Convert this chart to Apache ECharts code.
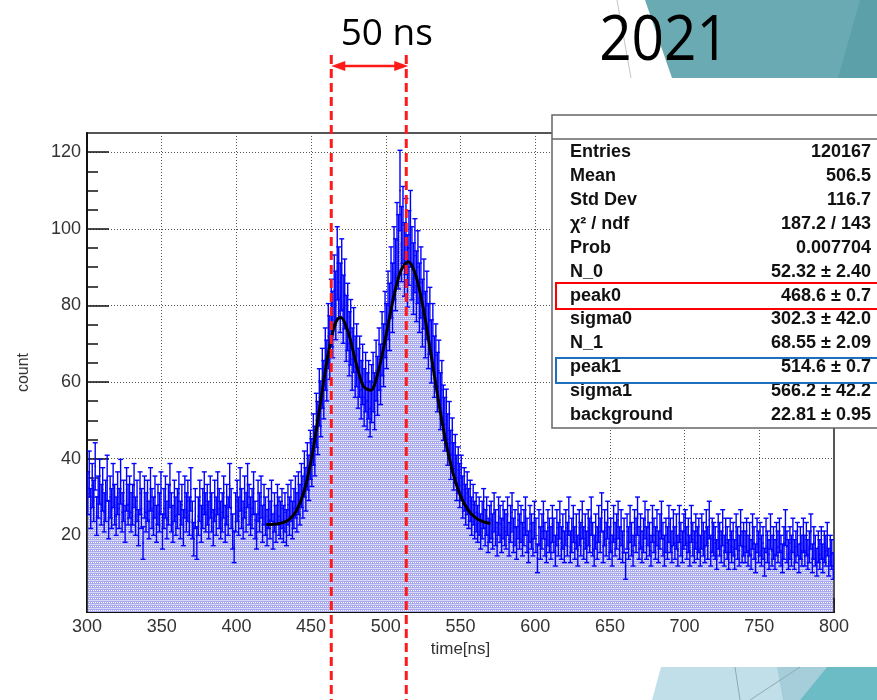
<!DOCTYPE html>
<html>
<head>
<meta charset="utf-8">
<script src="https://cdn.jsdelivr.net/npm/echarts@6.0.0/dist/echarts.min.js"></script>
<style>
  html, body { margin: 0; padding: 0; background: #fff; }
  #main { width: 877px; height: 700px; }
</style>
</head>
<body>
<div id="main"></div>
<script>
// histogram: 1 ns bins from 300 to 800
var binStart = 300;
var binWidth = 1;
var counts = [
  31,36,27,33,29,38,25,30,34,28, 32,26,29,35,24,30,27,33,28,25,
  31,27,34,26,29,23,32,28,30,26, 28,33,25,29,22,31,27,18,30,26,
  29,24,32,27,25,30,23,28,26,31, 21,27,30,24,28,33,26,23,29,25,
  27,31,24,28,22,30,26,29,25,32, 24,19,27,18,25,29,23,27,31,26,
  28,24,30,26,22,29,25,31,27,24, 26,30,23,28,25,33,27,21,17,26,
  29,25,32,27,24,30,26,33,28,25, 27,31,24,21,29,26,30,23,28,25,
  22,27,24,29,21,26,23,28,25,24, 27,23,26,22,28,25,29,24,27,30,
  26,31,28,33,30,36,32,38,35,41, 39,45,42,50,48,56,53,61,58,66,
  63,72,69,78,75,84,80,91,86,82, 88,79,83,74,77,70,73,66,71,64,
  67,61,64,58,62,56,60,55,58,53, 57,60,55,63,59,66,62,70,67,75,
  72,80,77,86,82,91,88,97,94,110, 96,101,92,98,89,95,100,91,87,93,
  85,90,82,86,78,83,75,80,72,76, 68,72,64,67,60,63,55,58,52,49,
  51,45,48,41,44,38,40,35,37,33, 35,30,32,28,31,27,29,25,28,24,
  26,23,25,21,24,27,22,25,20,23, 24,21,26,22,19,25,23,20,24,22,
  21,25,19,23,26,20,22,18,24,21, 23,19,22,25,20,17,23,21,19,24,
  20,14,22,18,21,24,19,17,22,20, 18,23,20,16,22,19,24,18,21,17,
  22,19,25,17,20,23,18,21,16,22, 19,24,18,21,17,22,20,25,19,16,
  21,18,23,20,26,17,22,19,24,18, 20,16,23,19,21,24,18,22,17,20,
  12,21,18,23,19,16,22,20,25,18, 21,17,20,24,18,22,19,16,23,20,
  18,22,17,21,24,19,16,20,18,23, 20,17,22,18,21,16,23,19,17,21,
  22,18,20,16,23,19,17,21,18,20, 16,21,19,17,22,18,24,16,20,19,
  18,15,21,19,17,22,16,20,18,15, 20,17,19,15,21,18,16,22,17,19,
  17,20,16,19,15,21,18,14,20,17, 19,16,18,13,20,17,15,21,16,18,
  15,19,17,20,16,14,18,22,17,15, 18,16,20,15,17,19,14,18,16,20,
  16,19,15,17,21,14,18,16,13,17, 15,18,14,17,16,19,13,16,15,12
];

// fitted double gaussian + background
var fitX = [420,425,430,435,440,445,450,455,460,465,468.6,470,475,480,485,490,495,500,505,510,515,520,525,530,535,540,545,550,555,560,565,570];
var fitY = [22.83,22.91,23.19,24.06,26.31,31.11,39.51,51.31,64.13,73.82,76.76,76.83,72.80,65.13,58.89,57.85,62.81,71.87,81.71,89.03,91.38,87.92,79.44,67.90,55.68,44.75,36.21,30.31,26.65,24.61,23.58,23.11];

// red dashed marker positions (time in ns)
var markerX = [463.5, 513.7];
var markerText = '50 ns';
var yearText = '2021';

var statLabels = ['Entries', 'Mean', 'Std Dev', 'χ² / ndf', 'Prob', 'N_0', 'peak0', 'sigma0', 'N_1', 'peak1', 'sigma1', 'background'];
var statValues = ['120167', '506.5', '116.7', '187.2 / 143', '0.007704', '52.32 ± 2.40', '468.6 ± 0.7', '302.3 ± 42.0', '68.55 ± 2.09', '514.6 ± 0.7', '566.2 ± 42.2', '22.81 ± 0.95'];

var histData = counts.map(function (v, i) {
  return [binStart + binWidth * (i + 0.5), v];
});
var errData = counts.map(function (v, i) {
  return [binStart + binWidth * (i + 0.5), v, Math.sqrt(v)];
});
var fitData = fitX.map(function (x, i) { return [x, fitY[i]]; });

// lavender dotted fill like ROOT's fill style
function makePattern() {
  var c = document.createElement('canvas');
  c.width = 4;
  c.height = 4;
  var ctx = c.getContext('2d');
  ctx.fillStyle = '#a9a9ee';
  ctx.fillRect(0, 0, 4, 4);
  ctx.fillStyle = '#d6d6f8';
  ctx.fillRect(0, 0, 4, 1);
  ctx.fillStyle = '#ffffff';
  ctx.fillRect(1, 2, 1, 1);
  ctx.fillRect(3, 2, 1, 1);
  return c;
}

var font = 'Liberation Sans';
var myChart = echarts.init(document.getElementById('main'));

var option = {
  animation: false,
  grid: {
    left: 87, right: 43, top: 133, bottom: 88,
    show: true, borderColor: '#555', borderWidth: 2
  },
  xAxis: {
    type: 'value',
    min: 300, max: 800, interval: 50,
    name: 'time[ns]',
    nameLocation: 'middle',
    nameGap: 14,
    nameTextStyle: { fontFamily: font, fontSize: 17, color: '#333' },
    axisLine: { show: true, onZero: false, lineStyle: { color: '#111', width: 2 } },
    axisTick: { show: true, inside: true, length: 14, lineStyle: { color: '#111', width: 1.5 } },
    minorTick: { show: true, splitNumber: 5, length: 7, lineStyle: { color: '#111', width: 1.5 } },
    splitLine: { show: true, lineStyle: { color: '#555', type: [1, 2], width: 1 } },
    axisLabel: { fontFamily: font, fontSize: 18, color: '#333', margin: 6 }
  },
  yAxis: {
    type: 'value',
    min: 0, max: 125, interval: 20,
    name: 'count',
    nameLocation: 'middle',
    nameGap: 55,
    nameTextStyle: { fontFamily: font, fontSize: 16, color: '#333' },
    axisLine: { show: true, onZero: false, lineStyle: { color: '#111', width: 2 } },
    axisTick: { show: true, inside: true, length: 22, lineStyle: { color: '#111', width: 1.5 },
      customValues: [0, 20, 40, 60, 80, 100, 120] },
    minorTick: { show: true, splitNumber: 4, length: 11, lineStyle: { color: '#111', width: 1.5 } },
    splitLine: { show: true, lineStyle: { color: '#555', type: [1, 2], width: 1 } },
    axisLabel: { fontFamily: font, fontSize: 18, color: '#333', margin: 6,
      customValues: [20, 40, 60, 80, 100, 120] }
  },
  series: [
    {
      name: 'hist',
      type: 'line',
      step: 'middle',
      data: histData,
      symbol: 'none',
      lineStyle: { width: 0, opacity: 0 },
      areaStyle: { color: { image: makePattern(), repeat: 'repeat' }, opacity: 1 },
      z: 1
    },
    {
      name: 'errors',
      type: 'custom',
      data: errData,
      clip: true,
      z: 2,
      renderItem: function (params, api) {
        var x = api.value(0), v = api.value(1), e = api.value(2);
        var top = api.coord([x, v + e]);
        var bot = api.coord([x, v - e]);
        var mid = api.coord([x, v]);
        var hw = api.size([binWidth, 0])[0] / 2;
        var st = { stroke: '#0000ff', lineWidth: 1.4 };
        return {
          type: 'group',
          children: [
            { type: 'line', shape: { x1: top[0], y1: top[1], x2: bot[0], y2: bot[1] }, style: st },
            { type: 'line', shape: { x1: top[0] - 2.5, y1: top[1], x2: top[0] + 2.5, y2: top[1] }, style: st },
            { type: 'line', shape: { x1: bot[0] - 2.5, y1: bot[1], x2: bot[0] + 2.5, y2: bot[1] }, style: st },
            { type: 'line', shape: { x1: mid[0] - hw, y1: mid[1], x2: mid[0] + hw, y2: mid[1] }, style: st }
          ]
        };
      }
    },
    {
      name: 'fit',
      type: 'line',
      data: fitData,
      smooth: 0.3,
      symbol: 'none',
      lineStyle: { color: '#000', width: 3 },
      z: 3
    }
  ]
};

myChart.setOption(option);

// overlays: slide decoration, stats box, red markers
var g = [];

// slide decoration top right
g.push({ type: 'polygon', z: 0, shape: { points: [[645, 0], [877, 0], [877, 78], [672, 78]] }, style: { fill: '#6aabb3' } });
g.push({ type: 'polygon', z: 0, shape: { points: [[860, 0], [877, 0], [877, 78], [838, 78]] }, style: { fill: '#5ca1aa' } });
g.push({ type: 'line', z: 0, shape: { x1: 617, y1: 0, x2: 631, y2: 78 }, style: { stroke: '#c4c4c4', lineWidth: 1 } });
// slide decoration bottom right
g.push({ type: 'polygon', z: 0, shape: { points: [[661, 667], [877, 667], [877, 700], [652, 700]] }, style: { fill: '#c1dfe8' } });
g.push({ type: 'polygon', z: 0, shape: { points: [[777, 667], [827, 667], [800, 700], [783, 700]] }, style: { fill: '#a6ceda' } });
g.push({ type: 'polygon', z: 0, shape: { points: [[827, 667], [877, 667], [877, 700], [800, 700]] }, style: { fill: '#6cbcc6' } });
g.push({ type: 'line', z: 1, shape: { x1: 735, y1: 667, x2: 740, y2: 700 }, style: { stroke: '#8fa9b3', lineWidth: 1 } });
g.push({ type: 'line', z: 1, shape: { x1: 800, y1: 667, x2: 750, y2: 700 }, style: { stroke: '#8fa9b3', lineWidth: 1 } });

g.push({
  type: 'text', z: 5, x: 664, y: 42, scaleX: 0.9,
  style: { text: yearText, fontFamily: 'Open Sans', fontSize: 63, fill: '#000',
    textAlign: 'center', textVerticalAlign: 'middle' }
});

// stats box
g.push({ type: 'rect', z: 100, shape: { x: 552, y: 115, width: 340, height: 313 },
  style: { fill: '#fff', stroke: '#666', lineWidth: 1.5 } });
g.push({ type: 'line', z: 101, shape: { x1: 552, y1: 139, x2: 877, y2: 139 }, style: { stroke: '#666', lineWidth: 1.5 } });
for (var i = 0; i < statLabels.length; i++) {
  var yy = 152.3 + i * 23.88;
  g.push({ type: 'text', z: 102, x: 570, y: yy,
    style: { text: statLabels[i], fontFamily: font, fontSize: 18, fontWeight: 'bold', fill: '#111',
      textAlign: 'left', textVerticalAlign: 'middle' } });
  g.push({ type: 'text', z: 102, x: 871, y: yy,
    style: { text: statValues[i], fontFamily: font, fontSize: 18, fontWeight: 'bold', fill: '#111',
      textAlign: 'right', textVerticalAlign: 'middle' } });
}
g.push({ type: 'rect', z: 103, shape: { x: 556, y: 283, width: 330, height: 26 },
  style: { fill: 'none', stroke: '#ff0000', lineWidth: 2 } });
g.push({ type: 'rect', z: 103, shape: { x: 556, y: 358, width: 330, height: 25 },
  style: { fill: 'none', stroke: '#1f6fc0', lineWidth: 2 } });

// red dashed markers and arrow
var px = markerX.map(function (x) {
  return myChart.convertToPixel({ gridIndex: 0 }, [x, 0])[0];
});
px.forEach(function (x) {
  g.push({ type: 'line', z: 110, shape: { x1: x, y1: 55, x2: x, y2: 700 },
    style: { stroke: '#ff1a1a', lineWidth: 3, lineDash: [9, 5] } });
});
var ay = 66;
g.push({ type: 'line', z: 111, shape: { x1: px[0] + 8, y1: ay, x2: px[1] - 8, y2: ay },
  style: { stroke: '#ff1a1a', lineWidth: 2.5 } });
g.push({ type: 'polygon', z: 111, shape: { points: [[px[0], ay], [px[0] + 14, ay - 5], [px[0] + 14, ay + 5]] },
  style: { fill: '#ff1a1a' } });
g.push({ type: 'polygon', z: 111, shape: { points: [[px[1] + 2, ay], [px[1] - 12, ay - 5], [px[1] - 12, ay + 5]] },
  style: { fill: '#ff1a1a' } });
g.push({
  type: 'text', z: 111, x: (px[0] + px[1]) / 2 + 18, y: 34,
  style: { text: markerText, fontFamily: 'Open Sans', fontSize: 37, fill: '#000',
    textAlign: 'center', textVerticalAlign: 'middle' }
});

myChart.setOption({ graphic: g });
</script>
</body>
</html>
